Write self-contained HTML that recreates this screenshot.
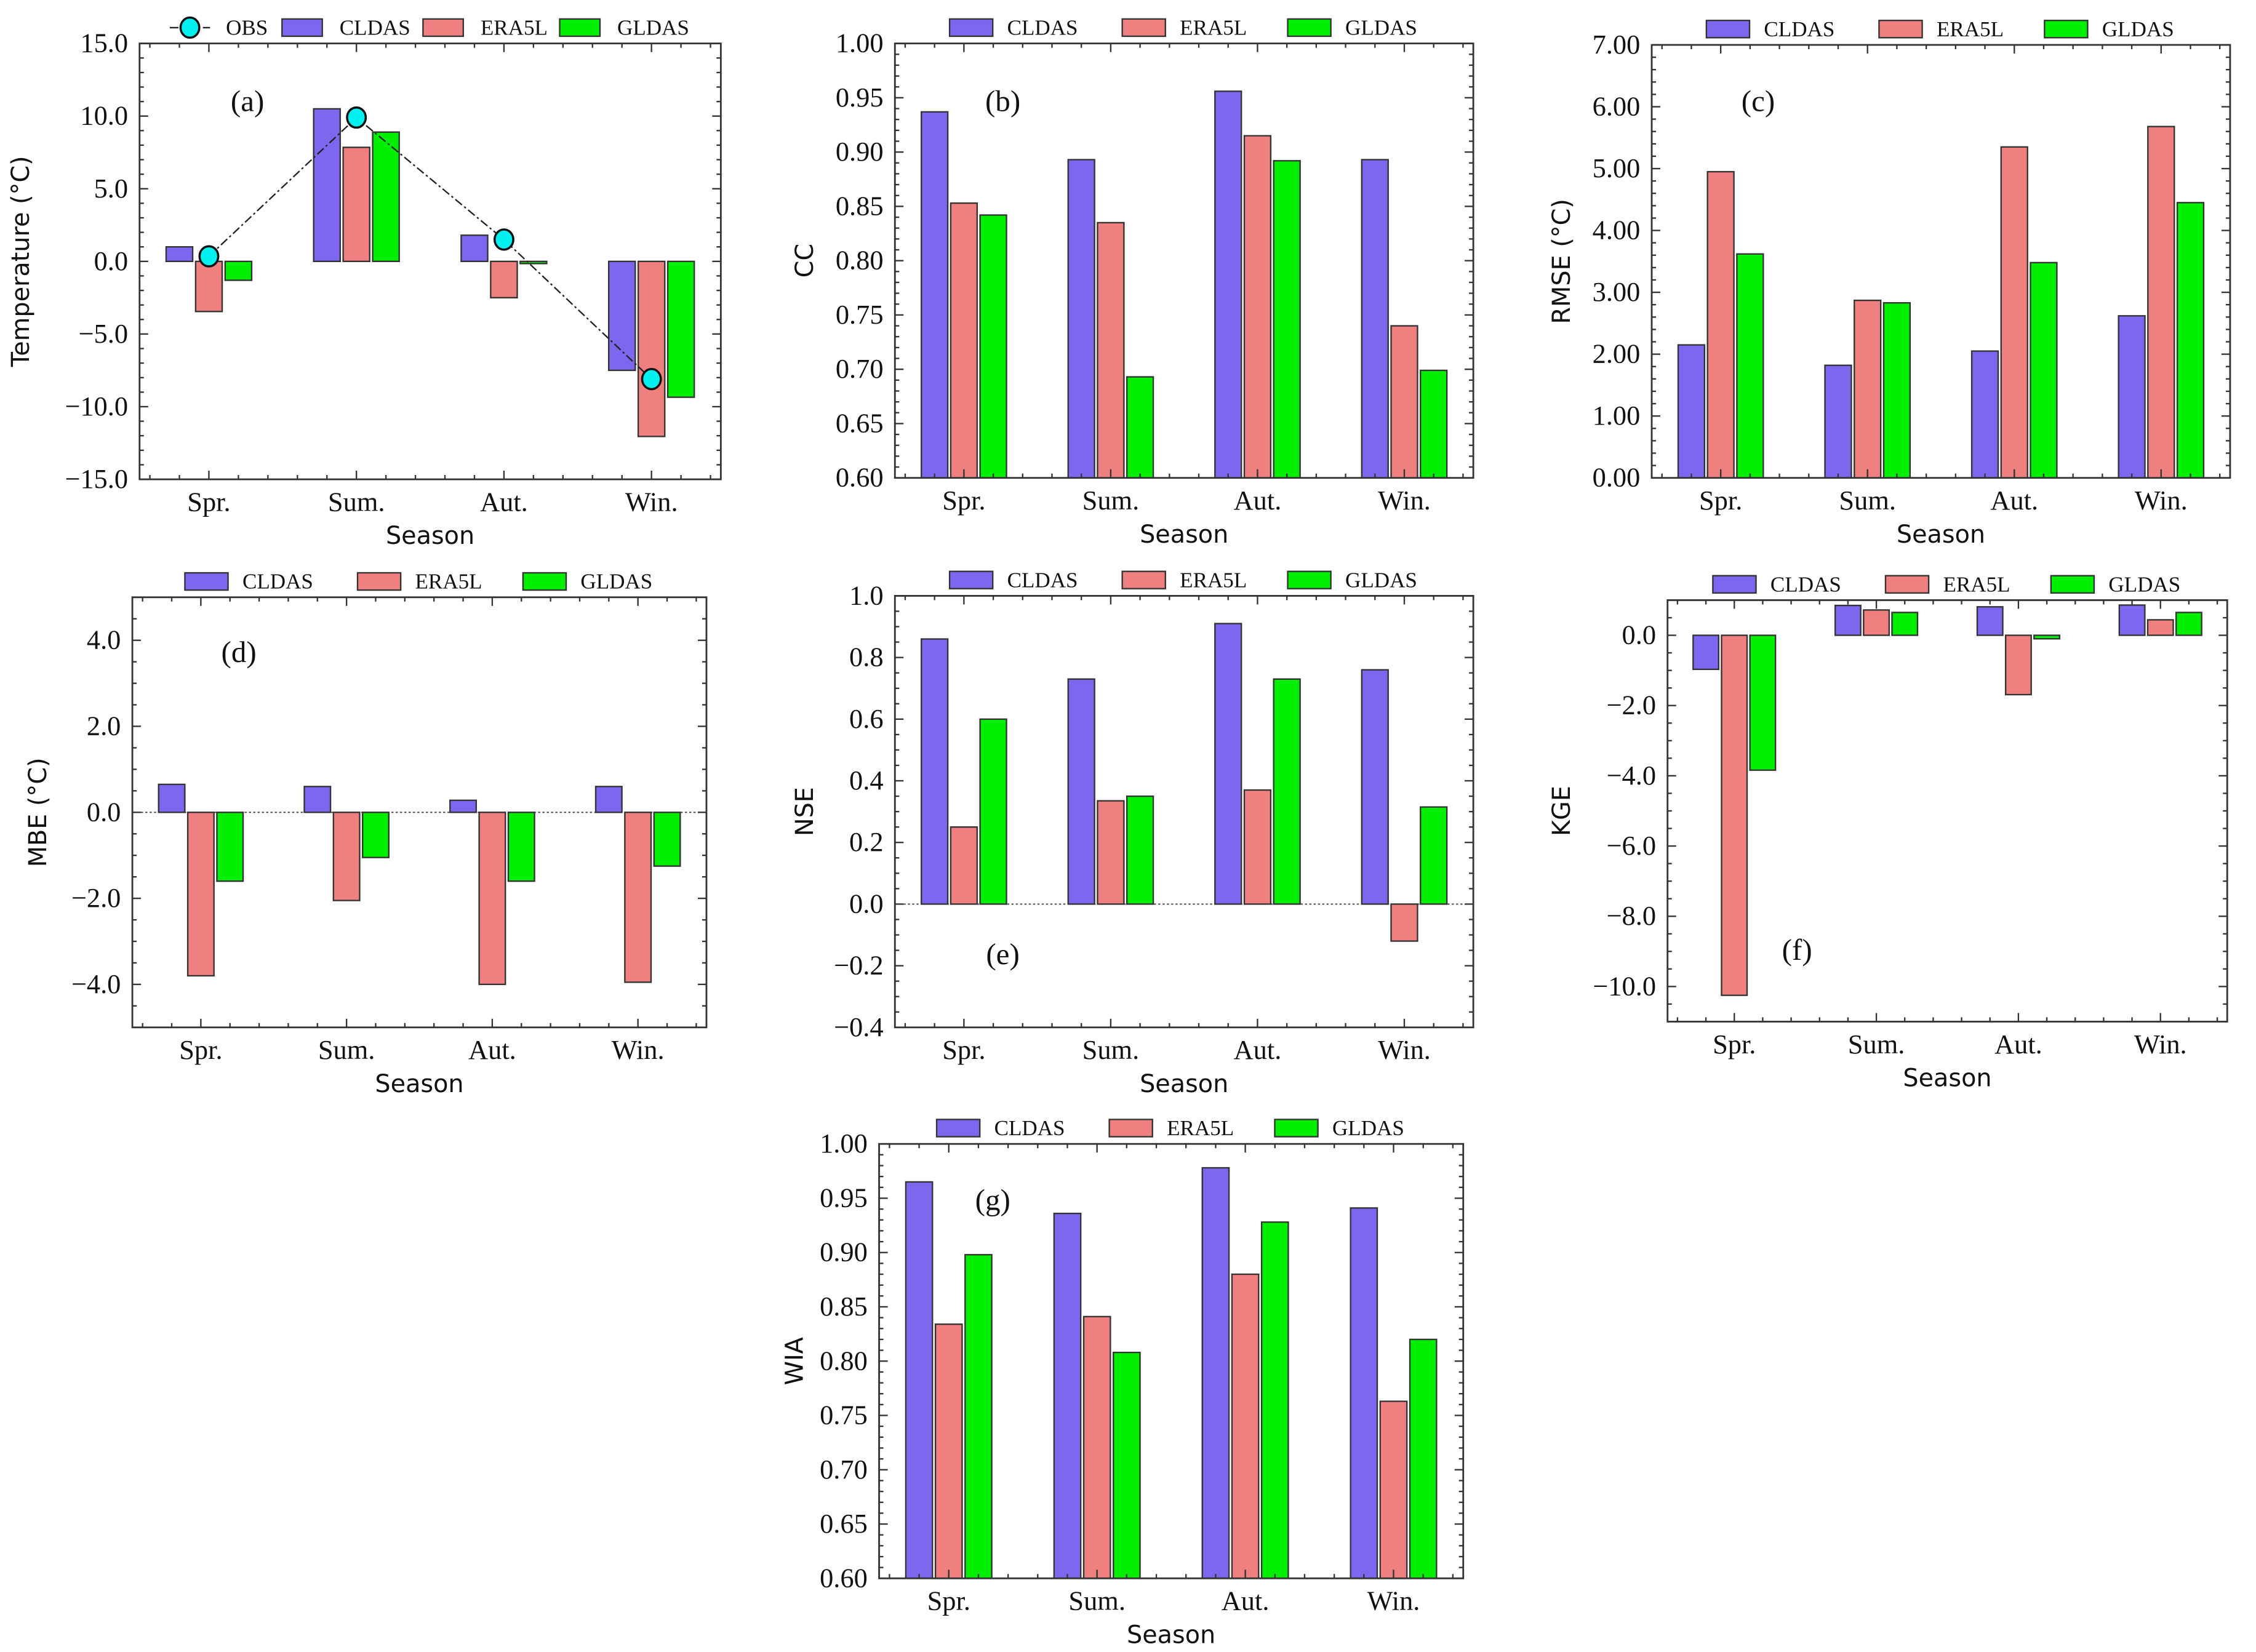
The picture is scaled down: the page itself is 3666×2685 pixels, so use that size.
<!DOCTYPE html>
<html><head><meta charset="utf-8"><style>
html,body{margin:0;padding:0;background:#fff;}
svg{display:block;}
.tk{font-family:"Liberation Serif",serif;font-size:19px;fill:#111;}
.lg{font-family:"Liberation Serif",serif;font-size:15px;fill:#111;}
.ax{font-family:"DejaVu Sans","Liberation Sans",sans-serif;font-size:17px;fill:#111;}
.pl{font-family:"Liberation Serif",serif;font-size:21px;fill:#111;}
</style></head><body>
<svg id="fig" xmlns="http://www.w3.org/2000/svg" width="3666" height="2685" viewBox="0 0 1568 1148"></svg>
<script>
const categories = ["Spr.", "Sum.", "Aut.", "Win."];
const seriesNames = ["CLDAS", "ERA5L", "GLDAS"];
const tempCLDAS = [1.0, 10.5, 1.8, -7.5];
const tempERA5L = [-3.45, 7.85, -2.5, -12.05];
const tempGLDAS = [-1.3, 8.9, -0.15, -9.35];
const tempOBS = [0.35, 9.9, 1.5, -8.1];
const ccCLDAS = [0.937, 0.893, 0.956, 0.893];
const ccERA5L = [0.853, 0.835, 0.915, 0.740];
const ccGLDAS = [0.842, 0.693, 0.892, 0.699];
const rmseCLDAS = [2.15, 1.82, 2.05, 2.62];
const rmseERA5L = [4.95, 2.87, 5.35, 5.68];
const rmseGLDAS = [3.62, 2.83, 3.48, 4.45];
const mbeCLDAS = [0.65, 0.6, 0.28, 0.6];
const mbeERA5L = [-3.8, -2.05, -4.0, -3.95];
const mbeGLDAS = [-1.6, -1.05, -1.6, -1.25];
const nseCLDAS = [0.86, 0.73, 0.91, 0.76];
const nseERA5L = [0.25, 0.335, 0.37, -0.12];
const nseGLDAS = [0.60, 0.35, 0.73, 0.315];
const kgeCLDAS = [-0.97, 0.85, 0.81, 0.86];
const kgeERA5L = [-10.25, 0.72, -1.69, 0.44];
const kgeGLDAS = [-3.84, 0.65, -0.1, 0.65];
const wiaCLDAS = [0.965, 0.936, 0.978, 0.941];
const wiaERA5L = [0.834, 0.841, 0.880, 0.763];
const wiaGLDAS = [0.898, 0.808, 0.928, 0.820];

const colors = ["#7B68EE", "#F08080", "#00EE00"];
const NS = "http://www.w3.org/2000/svg";
const fig = document.getElementById("fig");
function mk(tag, attrs, parent, txt) {
  const e = document.createElementNS(NS, tag);
  for (const k in attrs) e.setAttribute(k, attrs[k]);
  if (txt !== undefined) e.textContent = txt;
  (parent || fig).appendChild(e);
  return e;
}
function fmtNum(v, d) {
  let s = Math.abs(v) < 1e-9 ? (0).toFixed(d) : v.toFixed(d);
  return s.replace("-", "\u2212");
}
function panel(p) {
  const g = mk("g", {});
  
  
  const [L, T, R, B] = p.box;
  const xmin = -0.47, xmax = 3.47;
  const sx = v => L + (v - xmin) / (xmax - xmin) * (R - L);
  const sy = v => B - (v - p.ymin) / (p.ymax - p.ymin) * (B - T);
  if (p.zero) {
    const zl = mk("line", {x1: L, x2: R, y1: sy(0), y2: sy(0), stroke: "#444", "stroke-width": 0.8, "stroke-dasharray": "1.5,1.5"}, g);
    
    
  }
  p.series.forEach((arr, si) => {
    arr.forEach((v, ci) => {
      const x0 = sx(ci + (si - 1) * 0.2 - 0.09), x1 = sx(ci + (si - 1) * 0.2 + 0.09);
      const base = p.ymin > 0 ? p.ymin : 0;
      const y0 = sy(Math.max(v, base)), y1 = sy(Math.min(v, base));
      const r = mk("rect", {x: x0, y: y0, width: x1 - x0, height: Math.max(y1 - y0, 1), fill: colors[si], stroke: "#333", "stroke-width": 1}, g);
      
      
    });
  });
  if (p.obs) {
    const pts = p.obs.map((v, i) => sx(i) + "," + sy(v)).join(" ");
    const pl = mk("polyline", {points: pts, fill: "none", stroke: "#222", "stroke-width": 1, "stroke-dasharray": "6,2,1.5,2"}, g);
    
    
    p.obs.forEach((v, i) => {
      const c = mk("ellipse", {cx: sx(i), cy: sy(v), rx: 6.5, ry: 7, fill: "#00F0F0", stroke: "#111", "stroke-width": 1.5}, g);
      
      
    });
  }
  const fr = mk("rect", {x: L, y: T, width: R - L, height: B - T, fill: "none", stroke: "#333", "stroke-width": 1.2}, g);
  
  
  for (let k = -2; k <= 17; k++) {
    const v = k * 0.2; if (v < xmin || v > xmax) continue;
    const major = k % 5 === 0;
    const len = major ? 6 : 3;
    const x = sx(v);
    mk("line", {x1: x, x2: x, y1: B, y2: B - len, stroke: "#333", "stroke-width": 1}, g);
    mk("line", {x1: x, x2: x, y1: T, y2: T + len, stroke: "#333", "stroke-width": 1}, g);
  }
  categories.forEach((c, i) => {
    const t = mk("text", {x: sx(i), y: B + 22, "text-anchor": "middle", class: "tk"}, g, c);
    
    
  });
  const nMin = Math.round((p.ymax - p.ymin) / p.minor);
  for (let k = 0; k <= nMin; k++) {
    const v = p.ymin + k * p.minor;
    const y = sy(v);
    const rel = (v - p.t0) / p.step;
    const major = Math.abs(rel - Math.round(rel)) < 1e-6;
    const len = major ? 6 : 3;
    mk("line", {x1: L, x2: L + len, y1: y, y2: y, stroke: "#333", "stroke-width": 1}, g);
    mk("line", {x1: R, x2: R - len, y1: y, y2: y, stroke: "#333", "stroke-width": 1}, g);
  }
  for (let v = p.t0; v <= p.t1 + 1e-9; v += p.step) {
    const t = mk("text", {x: L - 8, y: sy(v) + 6, "text-anchor": "end", class: "tk"}, g, fmtNum(v, p.dec));
    
    
  }
  const xt = mk("text", {x: (L + R) / 2, y: B + 45, "text-anchor": "middle", class: "ax"}, g, "Season");
  
  
  const yx = L - p.yoff, yy = (T + B) / 2;
  const yt = mk("text", {x: yx, y: yy, "text-anchor": "middle", class: "ax", transform: `rotate(-90 ${yx} ${yy})`}, g, p.ylabel);
  
  
  const lb = mk("text", {x: p.lab[0], y: p.lab[1], "text-anchor": "middle", class: "pl"}, g, "(" + p.id + ")");
  
  
  const ly = T - 11;
  const lg = mk("g", {}, g);
  
  
  let offs, tgap, pw;
  if (p.obs) {
    offs = [196, 294, 389];
    pw = 28; tgap = 12;
    mk("line", {x1: 118, x2: 146, y1: ly, y2: ly, stroke: "#222", "stroke-width": 1, "stroke-dasharray": "6,2,1.5,2"}, lg);
    mk("ellipse", {cx: 132, cy: ly, rx: 6.5, ry: 7, fill: "#00F0F0", stroke: "#111", "stroke-width": 1.5}, lg);
    const te = mk("text", {x: 157, y: ly + 5, class: "lg"}, lg, "OBS");
    
    
  } else {
    const c = (L + R) / 2;
    offs = [c - 163, c - 43, c + 72];
    pw = 30; tgap = 10;
  }
  seriesNames.forEach((n, i) => {
    mk("rect", {x: offs[i], y: ly - 6, width: pw, height: 12, fill: colors[i], stroke: "#333", "stroke-width": 1}, lg);
    const te = mk("text", {x: offs[i] + pw + tgap, y: ly + 5, class: "lg"}, lg, n);
    
    
  });
}
panel({id: "a", box: [97, 30, 501, 333], ymin: -15, ymax: 15, t0: -15, t1: 15, step: 5, minor: 1, dec: 1, ylabel: "Temperature (°C)", yoff: 77, lab: [172, 77], series: [tempCLDAS, tempERA5L, tempGLDAS], obs: tempOBS});
panel({id: "b", box: [622, 30, 1024, 332], ymin: 0.6, ymax: 1.0, t0: 0.6, t1: 1.0, step: 0.05, minor: 0.01, dec: 2, ylabel: "CC", yoff: 57, lab: [697, 77], series: [ccCLDAS, ccERA5L, ccGLDAS]});
panel({id: "c", box: [1148, 31, 1550, 332], ymin: 0, ymax: 7, t0: 0, t1: 7, step: 1, minor: 0.2, dec: 2, ylabel: "RMSE (°C)", yoff: 57, lab: [1222, 77], series: [rmseCLDAS, rmseERA5L, rmseGLDAS]});
panel({id: "d", box: [92, 415, 491, 714], ymin: -5, ymax: 5, t0: -4, t1: 4, step: 2, minor: 0.5, dec: 1, ylabel: "MBE (°C)", yoff: 60, lab: [166, 460], series: [mbeCLDAS, mbeERA5L, mbeGLDAS], zero: true});
panel({id: "e", box: [622, 414, 1024, 714], ymin: -0.4, ymax: 1.0, t0: -0.4, t1: 1.0, step: 0.2, minor: 0.05, dec: 1, ylabel: "NSE", yoff: 57, lab: [697, 670], series: [nseCLDAS, nseERA5L, nseGLDAS], zero: true});
panel({id: "f", box: [1159, 417, 1548, 710], ymin: -11, ymax: 1.0, t0: -10, t1: 0, step: 2, minor: 0.5, dec: 1, ylabel: "KGE", yoff: 68, lab: [1249, 667], series: [kgeCLDAS, kgeERA5L, kgeGLDAS]});
panel({id: "g", box: [611, 795, 1017, 1097], ymin: 0.6, ymax: 1.0, t0: 0.6, t1: 1.0, step: 0.05, minor: 0.01, dec: 2, ylabel: "WIA", yoff: 53, lab: [690, 841], series: [wiaCLDAS, wiaERA5L, wiaGLDAS]});
</script>
</body></html>
